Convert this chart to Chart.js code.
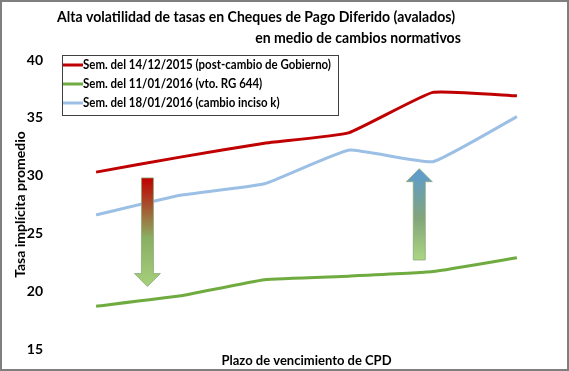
<!DOCTYPE html>
<html>
<head>
<meta charset="utf-8">
<script src="https://cdn.jsdelivr.net/npm/chart.js@4"></script>
<style>
  body { margin: 0; background: #fff; }
  #wrap { width: 569px; height: 371px; }
</style>
</head>
<body>
<div id="wrap"><canvas id="myChart" width="569" height="371"></canvas></div>
<script>
// data
var plazos = ['1', '2', '3', '4', '5', '6']
var sem1412 = [30.3, 31.6, 32.8, 33.7, 37.2, 36.9]
var sem1101 = [18.7, 19.6, 21.0, 21.3, 21.7, 22.9]
var sem1801 = [26.6, 28.3, 29.3, 32.2, 31.2, 35.1]
var yTicks = [15, 20, 25, 30, 35, 40]

// arrows: [x position (category index), from value, to value]
var flechaBaja = [0.61, 29.8, 20.4]
var flechaSube = [3.84, 22.7, 30.6]

var titulo1 = 'Alta volatilidad de tasas en Cheques de Pago Diferido (avalados)'
var titulo2 = 'en medio de cambios normativos'

var rojo = '#C00000', verde = '#6FAB3F', celeste = '#9CC0E5'
var fuente = 'Lato, "DejaVu Sans", sans-serif'

// text narrowed a little, the original font is condensed (Calibri)
var textoAngosto = function(c, txt, x, y, k) {
    c.save()
    c.translate(x, y)
    c.scale(k, 1)
    c.fillText(txt, 0, 0)
    c.restore()
}

var extras = {
    id: 'extras',
    beforeDraw: function(chart) {
        var c = chart.ctx
        c.save()
        c.fillStyle = '#fff'
        c.fillRect(0, 0, chart.width, chart.height)
        c.restore()
    },
    afterDatasetsDraw: function(chart) {
        var c = chart.ctx, xs = chart.scales.x, ys = chart.scales.y
        var flecha = function(f, colores) {
            var x = xs.getPixelForValue(f[0])
            var y0 = ys.getPixelForValue(f[1]), y1 = ys.getPixelForValue(f[2])
            var dir = y1 > y0 ? 1 : -1
            var head = 13 * dir
            var g = c.createLinearGradient(0, Math.min(y0, y1), 0, Math.max(y0, y1))
            colores.forEach(function(s) { g.addColorStop(s[0], s[1]) })
            c.save()
            c.beginPath()
            c.moveTo(x - 6, y0)
            c.lineTo(x + 6, y0)
            c.lineTo(x + 6, y1 - head)
            c.lineTo(x + 13, y1 - head)
            c.lineTo(x, y1)
            c.lineTo(x - 13, y1 - head)
            c.lineTo(x - 6, y1 - head)
            c.closePath()
            c.fillStyle = g
            c.fill()
            c.strokeStyle = 'rgba(140,170,120,0.8)'
            c.lineWidth = 1
            c.stroke()
            c.restore()
        }
        flecha(flechaBaja, [[0, '#C00000'], [0.55, '#8AAE62'], [1, '#A6D07C']])
        flecha(flechaSube, [[0, '#5B9BD5'], [0.55, '#84A57A'], [1, '#AAD682']])
    },
    afterDraw: function(chart) {
        var c = chart.ctx
        c.save()
        // two-line title, second line shifted right like the original
        c.fillStyle = '#000'
        c.textAlign = 'center'
        c.textBaseline = 'middle'
        c.font = 'bold 16px ' + fuente
        var kt = 398 / c.measureText(titulo1).width
        textoAngosto(c, titulo1, 256, 17, kt)
        textoAngosto(c, titulo2, 358, 38, kt)

        // legend box inside the plot
        var lx = 62, ly = 55, lw = 276, lh = 60
        c.fillStyle = '#fff'
        c.fillRect(lx, ly, lw, lh)
        c.strokeStyle = '#404040'
        c.lineWidth = 1
        c.strokeRect(lx + 0.5, ly + 0.5, lw, lh)
        c.textAlign = 'left'
        c.font = 'bold 12.5px ' + fuente
        var dsets = chart.data.datasets
        var kl = 248 / c.measureText(dsets[0].label).width
        dsets.forEach(function(ds, i) {
            var yy = 65 + i * 19
            c.strokeStyle = ds.borderColor
            c.lineWidth = 3
            c.beginPath()
            c.moveTo(lx + 1, yy)
            c.lineTo(lx + 21, yy)
            c.stroke()
            c.fillStyle = '#000'
            textoAngosto(c, ds.label, lx + 21, yy, kl)
        })

        // outer border
        c.strokeStyle = '#7F7F7F'
        c.lineWidth = 2
        c.strokeRect(1, 1, chart.width - 2, chart.height - 2)
        c.restore()
    }
}

var ctx = document.getElementById('myChart')
var myChart = new Chart(ctx, {
    type: 'line',
    data: {
        labels: plazos,
        datasets: [
            { label: 'Sem. del 14/12/2015 (post-cambio de Gobierno)', data: sem1412, borderColor: rojo },
            { label: 'Sem. del 11/01/2016 (vto. RG 644)', data: sem1101, borderColor: verde },
            { label: 'Sem. del 18/01/2016 (cambio inciso k)', data: sem1801, borderColor: celeste }
        ]
    },
    options: {
        responsive: false,
        animation: false,
        layout: { padding: { top: 60, right: 10, left: 0, bottom: 0 } },
        elements: {
            line: { borderWidth: 3, tension: 0.12, fill: false },
            point: { radius: 0 }
        },
        plugins: {
            legend: { display: false },
            title: { display: false },
            tooltip: { enabled: false }
        },
        scales: {
            x: {
                offset: true,
                grid: { display: false },
                border: { display: false },
                ticks: { display: false },
                title: {
                    display: true,
                    text: 'Plazo de vencimiento de CPD',
                    color: '#000',
                    padding: { top: 0, bottom: 2 },
                    font: { family: fuente, size: 13, weight: 'bold' }
                },
                afterFit: function(s) { s.height = 22 }
            },
            y: {
                min: 15,
                max: 40,
                afterBuildTicks: function(s) { s.ticks = yTicks.map(function(v) { return { value: v } }) },
                grid: { display: false, drawTicks: false },
                border: { display: false },
                ticks: { padding: 11, color: '#000', font: { family: fuente, size: 14, weight: 'bold' } },
                title: {
                    display: true,
                    text: 'Tasa implícita promedio',
                    color: '#000',
                    padding: { top: 12, bottom: 0 },
                    font: { family: fuente, size: 14, weight: 'bold' }
                },
                afterFit: function(s) { s.width = 54 }
            }
        }
    },
    plugins: [extras]
})
</script>
</body>
</html>
